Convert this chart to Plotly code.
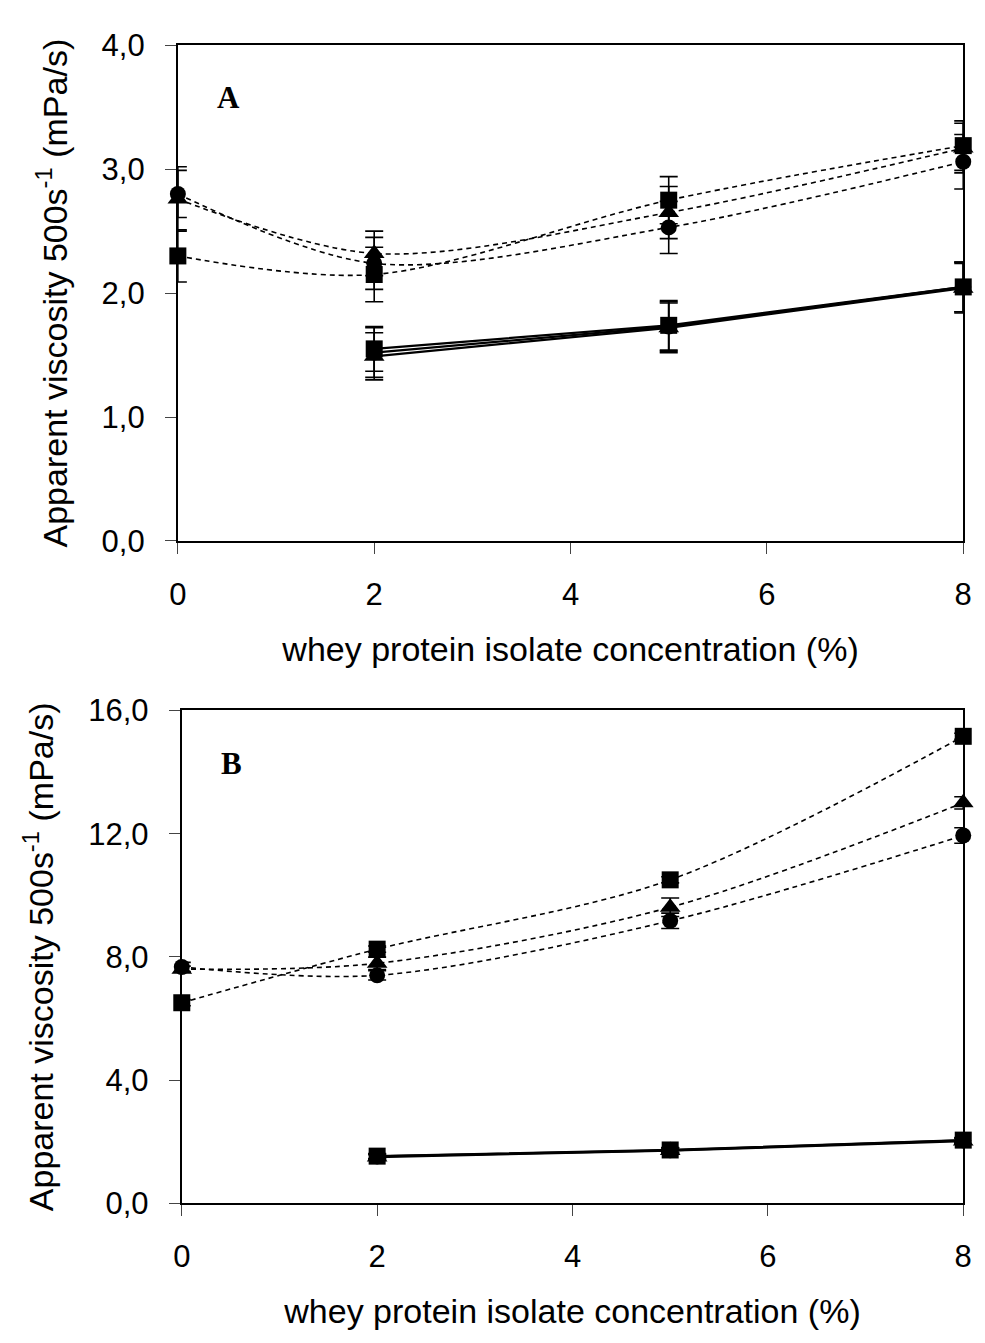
import plotly.graph_objects as go

# WPI concentration (%)
conc = [0, 2, 5, 8]
conc_solid = [2, 5, 8]

# Panel A – apparent viscosity at 500 s^-1 (mPa/s)
a_dot_circle = [2.80, 2.24, 2.53, 3.06]
a_dot_circle_err = [0.19, 0.21, 0.21, 0.22]
a_dot_triangle = [2.76, 2.32, 2.65, 3.17]
a_dot_triangle_err = [0.26, 0.18, 0.21, 0.20]
a_dot_square = [2.30, 2.15, 2.75, 3.19]
a_dot_square_err = [0.21, 0.22, 0.19, 0.20]

a_sol_circle = [1.52, 1.73, 2.05]
a_sol_circle_err = [0.20, 0.20, 0.20]
a_sol_triangle = [1.49, 1.72, 2.04]
a_sol_triangle_err = [0.19, 0.20, 0.20]
a_sol_square = [1.55, 1.74, 2.05]
a_sol_square_err = [0.18, 0.20, 0.20]

# Panel B
b_dot_circle = [7.67, 7.40, 9.17, 11.94]
b_dot_circle_err = [0.15, 0.15, 0.25, 0.25]
b_dot_triangle = [7.60, 7.79, 9.61, 13.00]
b_dot_triangle_err = [0.10, 0.20, 0.30, 0.20]
b_dot_square = [6.51, 8.25, 10.50, 15.16]
b_dot_square_err = [0.10, 0.10, 0.10, 0.10]

b_sol_circle = [1.52, 1.72, 2.04]
b_sol_triangle = [1.50, 1.71, 2.02]
b_sol_square = [1.53, 1.73, 2.05]
b_sol_err = [0.08, 0.08, 0.08]

x_ticks = [0, 2, 4, 6, 8]
x_title = "whey protein isolate concentration (%)"
y_title = "Apparent viscosity 500s<sup>-1</sup> (mPa/s)"

W, H = 985, 1343
FONT = "Liberation Sans, Arial, sans-serif"

fig = go.Figure()

symbols = {"circle": ("circle", 16), "triangle": ("triangle-up", 18), "square": ("square", 17)}


def add_series(x, y, err, shape, dotted, xa, ya):
    sym, size = symbols[shape]
    line = dict(color="black", width=1.6 if dotted else 2.2,
                dash="5px,4px" if dotted else "solid",
                shape="spline" if dotted else "linear", smoothing=0.9)
    fig.add_trace(go.Scatter(
        x=x, y=y, mode="lines+markers", xaxis=xa, yaxis=ya,
        line=line,
        marker=dict(symbol=sym, size=size, color="black", line=dict(width=0)),
        error_y=dict(type="data", array=err, visible=True, color="black",
                     thickness=1.6, width=9),
        cliponaxis=False, showlegend=False,
    ))


# Panel A
add_series(conc, a_dot_square, a_dot_square_err, "square", True, "x", "y")
add_series(conc, a_dot_triangle, a_dot_triangle_err, "triangle", True, "x", "y")
add_series(conc, a_dot_circle, a_dot_circle_err, "circle", True, "x", "y")
add_series(conc_solid, a_sol_circle, a_sol_circle_err, "circle", False, "x", "y")
add_series(conc_solid, a_sol_triangle, a_sol_triangle_err, "triangle", False, "x", "y")
add_series(conc_solid, a_sol_square, a_sol_square_err, "square", False, "x", "y")

# Panel B
add_series(conc, b_dot_square, b_dot_square_err, "square", True, "x2", "y2")
add_series(conc, b_dot_triangle, b_dot_triangle_err, "triangle", True, "x2", "y2")
add_series(conc, b_dot_circle, b_dot_circle_err, "circle", True, "x2", "y2")
add_series(conc_solid, b_sol_circle, b_sol_err, "circle", False, "x2", "y2")
add_series(conc_solid, b_sol_triangle, b_sol_err, "triangle", False, "x2", "y2")
add_series(conc_solid, b_sol_square, b_sol_err, "square", False, "x2", "y2")


def px_x(v):
    return v / W


def px_y(v):
    return 1 - v / H


axis_common = dict(
    showline=True, linecolor="black", linewidth=2, mirror=True,
    ticks="outside", ticklen=11, tickwidth=1.2, tickcolor="#444",
    showgrid=False, zeroline=False,
    tickfont=dict(family=FONT, size=31, color="black"),
)

title_font = dict(family=FONT, size=34, color="black")

xaxis_common = dict(axis_common, range=[0, 8], tickmode="array", tickvals=x_ticks,
                    ticklabelstandoff=14,
                    title=dict(text=x_title, font=title_font, standoff=26))

yaxis_title = dict(text=y_title, font=title_font, standoff=24)

fig.update_layout(
    width=W, height=H,
    margin=dict(l=0, r=0, t=0, b=0),
    paper_bgcolor="white", plot_bgcolor="white",
    separators=",.",
    xaxis=dict(xaxis_common, domain=[px_x(172), px_x(972)], anchor="y"),
    yaxis=dict(axis_common, domain=[px_y(538), px_y(29)], anchor="x",
               range=[0, 4], dtick=1, tickformat=".1f", ticklabelstandoff=14,
               title=yaxis_title),
    xaxis2=dict(xaxis_common, domain=[px_x(176), px_x(972)], anchor="y2"),
    yaxis2=dict(axis_common, domain=[px_y(1218), px_y(712)], anchor="x2",
                range=[0, 16], dtick=4, tickformat=".1f", ticklabelstandoff=14,
                title=yaxis_title),
    annotations=[
        dict(text="<b>A</b>", xref="paper", yref="paper", x=px_x(224), y=px_y(83),
             xanchor="center", yanchor="middle", showarrow=False,
             font=dict(family="Liberation Serif, Times New Roman, serif", size=31, color="black")),
        dict(text="<b>B</b>", xref="paper", yref="paper", x=px_x(227), y=px_y(766),
             xanchor="center", yanchor="middle", showarrow=False,
             font=dict(family="Liberation Serif, Times New Roman, serif", size=31, color="black")),
    ],
)

fig.write_html("out.html")
